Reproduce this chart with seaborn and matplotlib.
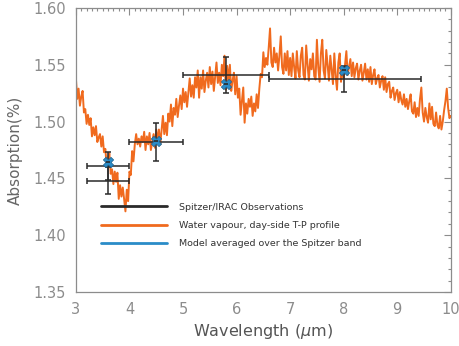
import numpy as np
import pandas as pd
import matplotlib
matplotlib.use("Agg")
import matplotlib.pyplot as plt
from matplotlib.ticker import MultipleLocator, FormatStrFormatter
from matplotlib.lines import Line2D
import seaborn as sns

# Model spectrum (water vapour, day-side T-P profile), 3.000-10.000 um every 0.025 um
absorption = [
    1.538, 1.520, 1.529, 1.514, 1.522, 1.527, 1.508, 1.511, 1.498, 1.506,
    1.497, 1.503, 1.487, 1.495, 1.488, 1.496, 1.482, 1.486, 1.489, 1.478,
    1.487, 1.473, 1.476, 1.460, 1.467, 1.472, 1.454, 1.458, 1.445, 1.456,
    1.447, 1.455, 1.432, 1.444, 1.434, 1.442, 1.432, 1.421, 1.440, 1.430,
    1.456, 1.453, 1.474, 1.465, 1.480, 1.489, 1.480, 1.485, 1.478, 1.487,
    1.482, 1.491, 1.475, 1.487, 1.480, 1.490, 1.475, 1.482, 1.489, 1.477,
    1.493, 1.482, 1.493, 1.480, 1.492, 1.505, 1.489, 1.499, 1.488, 1.507,
    1.500, 1.515, 1.496, 1.512, 1.506, 1.520, 1.504, 1.514, 1.523, 1.511,
    1.529, 1.517, 1.526, 1.513, 1.525, 1.538, 1.522, 1.532, 1.521, 1.539,
    1.530, 1.545, 1.521, 1.539, 1.529, 1.545, 1.526, 1.536, 1.543, 1.530,
    1.548, 1.533, 1.544, 1.527, 1.540, 1.552, 1.534, 1.543, 1.532, 1.550,
    1.540, 1.558, 1.528, 1.549, 1.536, 1.550, 1.527, 1.536, 1.543, 1.524,
    1.540, 1.521, 1.529, 1.506, 1.518, 1.530, 1.499, 1.516, 1.507, 1.520,
    1.513, 1.522, 1.505, 1.516, 1.509, 1.524, 1.512, 1.529, 1.542, 1.539,
    1.561, 1.548, 1.556, 1.550, 1.565, 1.582, 1.552, 1.548, 1.565, 1.552,
    1.560, 1.545, 1.558, 1.575, 1.548, 1.542, 1.560, 1.545, 1.562, 1.541,
    1.556, 1.540, 1.560, 1.548, 1.538, 1.562, 1.545, 1.539, 1.558, 1.565,
    1.541, 1.537, 1.567, 1.550, 1.536, 1.555, 1.546, 1.560, 1.540, 1.537,
    1.572, 1.548, 1.535, 1.560, 1.572, 1.545, 1.538, 1.563, 1.550, 1.536,
    1.558, 1.545, 1.533, 1.560, 1.540, 1.528, 1.552, 1.560, 1.535, 1.546,
    1.538, 1.550, 1.562, 1.541, 1.548, 1.555, 1.540, 1.552, 1.539, 1.547,
    1.551, 1.537, 1.545, 1.550, 1.536, 1.543, 1.551, 1.537, 1.546, 1.535,
    1.548, 1.533, 1.541, 1.546, 1.533, 1.538, 1.541, 1.530, 1.536, 1.540,
    1.528, 1.539, 1.526, 1.533, 1.535, 1.521, 1.527, 1.530, 1.519, 1.525,
    1.528, 1.517, 1.526, 1.519, 1.515, 1.524, 1.513, 1.520, 1.511, 1.518,
    1.524, 1.509, 1.507, 1.517, 1.504, 1.512, 1.505, 1.520, 1.530, 1.508,
    1.500, 1.512, 1.504, 1.499, 1.516, 1.502, 1.513, 1.498, 1.496, 1.508,
    1.497, 1.494, 1.505, 1.493, 1.500, 1.510, 1.518, 1.529, 1.512, 1.503,
    1.505,
]
wavelength = np.linspace(3.0, 10.0, len(absorption))

# Spitzer/IRAC observations
obs_wave = [3.6, 3.6, 4.5, 5.8, 8.0]
obs_depth = [1.461, 1.448, 1.482, 1.541, 1.5375]
obs_err = [0.012, 0.012, 0.017, 0.0155, 0.0115]
obs_band_lo = [0.4, 0.4, 0.5, 0.8, 1.4]
obs_band_hi = [0.4, 0.4, 0.5, 0.8, 1.45]

# Model averaged over each Spitzer band
band_wave = [3.6, 4.5, 5.8, 8.0]
band_depth = [1.464, 1.483, 1.533, 1.545]

legend_labels = ["Spitzer/IRAC Observations",
                 "Water vapour, day-side T-P profile",
                 "Model averaged over the Spitzer band"]

ORANGE = "#f06a1e"
BLUE = "#2a8cc8"
BLACK = "#2a2a2a"
GREY = "#8c8c8c"

sns.set_style("white")
plt.rcParams["font.family"] = ["DejaVu Sans"]

fig = plt.figure(figsize=(4.6, 3.46), dpi=100)
ax = fig.add_axes([0.165, 0.156, 0.815, 0.821])

spec = pd.DataFrame({"wavelength": wavelength, "absorption": absorption})
sns.lineplot(data=spec, x="wavelength", y="absorption", color=ORANGE,
             linewidth=1.4, ax=ax, zorder=2)

ax.errorbar(obs_wave, obs_depth, yerr=obs_err,
            xerr=[obs_band_lo, obs_band_hi], fmt="none", ecolor=BLACK,
            elinewidth=1.1, capsize=2.5, capthick=1.1, zorder=3)

bands = pd.DataFrame({"wavelength": band_wave, "absorption": band_depth})
sns.scatterplot(data=bands, x="wavelength", y="absorption", marker="X",
                s=55, color=BLUE, edgecolor="#1d5f8a", linewidth=0.5,
                ax=ax, zorder=4)
ax.errorbar(band_wave, band_depth, xerr=0.04, fmt="none", ecolor=BLACK,
            elinewidth=1.2, capsize=0, zorder=5)

ax.set_xlim(3, 10)
ax.set_ylim(1.35, 1.60)
ax.xaxis.set_major_locator(MultipleLocator(1))
ax.xaxis.set_minor_locator(MultipleLocator(0.1))
ax.yaxis.set_major_locator(MultipleLocator(0.05))
ax.yaxis.set_minor_locator(MultipleLocator(0.01))
ax.yaxis.set_major_formatter(FormatStrFormatter("%.2f"))
ax.tick_params(which="both", direction="in", top=True, right=True,
               color=GREY, width=0.8)
ax.tick_params(which="major", length=5, labelsize=10.5, labelcolor=GREY,
               pad=7)
ax.tick_params(which="minor", length=2.5)
for side in ax.spines.values():
    side.set_color(GREY)
    side.set_linewidth(0.9)

ax.set_xlabel(r"Wavelength ($\mu$m)", fontsize=11.5, color="#555555",
              labelpad=4)
ax.set_ylabel("Absorption(%)", fontsize=11, color="#666666", labelpad=8)

handles = [Line2D([], [], color=BLACK, lw=2),
           Line2D([], [], color=ORANGE, lw=2),
           Line2D([], [], color=BLUE, lw=2)]
leg = ax.legend(handles, legend_labels, loc="upper left",
                bbox_to_anchor=(0.045, 0.345), frameon=False, fontsize=6.8,
                handlelength=7.0, handletextpad=1.2, labelspacing=1.0)
for t in leg.get_texts():
    t.set_color("#333333")

fig.savefig("out.png", dpi=100)
